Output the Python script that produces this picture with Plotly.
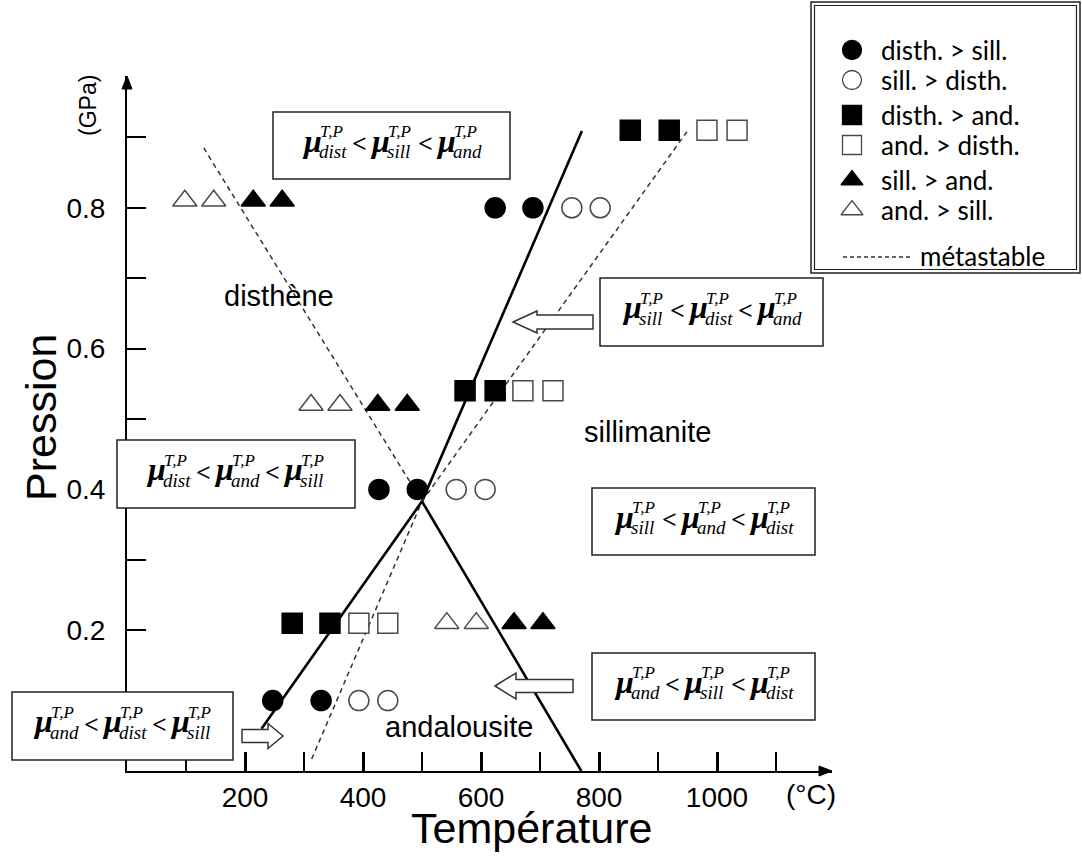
import plotly.graph_objects as go

W, H = 1082, 863

# ---------------- data (T in °C, P in GPa) ----------------
# experimental reversals
disth_sill_T = [247, 329, 427, 492, 624, 688]          # disth. > sill.
disth_sill_P = [0.10, 0.10, 0.40, 0.40, 0.80, 0.80]
sill_disth_T = [393, 442, 558, 607, 754, 802]          # sill. > disth.
sill_disth_P = [0.10, 0.10, 0.40, 0.40, 0.80, 0.80]
disth_and_T = [280, 344, 573, 624, 853, 919]           # disth. > and.
disth_and_P = [0.21, 0.21, 0.54, 0.54, 0.91, 0.91]
and_disth_T = [393, 442, 671, 722, 983, 1034]          # and. > disth.
and_disth_P = [0.21, 0.21, 0.54, 0.54, 0.91, 0.91]
sill_and_T = [214, 263, 425, 475, 656, 705]            # sill. > and.
sill_and_P = [0.81, 0.81, 0.52, 0.52, 0.21, 0.21]
and_sill_T = [98, 147, 312, 361, 542, 592]             # and. > sill.
and_sill_P = [0.81, 0.81, 0.52, 0.52, 0.21, 0.21]

# phase boundaries (stable, solid)
ky_and_T = [228, 500]
ky_and_P = [0.06, 0.383]
ky_sil_T = [500, 771]
ky_sil_P = [0.383, 0.909]
and_sil_T = [500, 770]
and_sil_P = [0.383, 0.0]
# metastable extensions (dashed)
meta_and_sil_T = [130, 500]
meta_and_sil_P = [0.885, 0.383]
meta_ky_sil_T = [313, 500]
meta_ky_sil_P = [0.017, 0.383]
meta_ky_and_T = [500, 949]
meta_ky_and_P = [0.383, 0.908]

x_tick_vals = [200, 400, 600, 800, 1000]
x_tick_text = ["200", "400", "600", "800", "1000"]
x_minor_vals = [0, 100, 300, 500, 700, 900, 1100]
y_tick_vals = [0.2, 0.4, 0.6, 0.8]
y_tick_text = ["0.2", "0.4", "0.6", "0.8"]
y_minor_vals = [0.1, 0.3, 0.5, 0.7, 0.9]

legend_labels = ["disth. > sill.", "sill. > disth.", "disth. > and.",
                 "and. > disth.", "sill. > and.", "and. > sill."]
region_labels = ["disthène", "sillimanite", "andalousite"]

# ---------------- layout geometry (pixels) ----------------
X0_PX, X1_PX = 127, 832        # T = 0 and arrow tip
Y0_PX, Y1_PX = 771, 76         # P = 0 and arrow tip
PX_PER_T = 0.59
PX_PER_P = 704.0
x_range = [0, (X1_PX - X0_PX) / PX_PER_T]
y_range = [0, (Y0_PX - Y1_PX) / PX_PER_P]

fig = go.Figure()

BLACK = "#000000"
OPEN_COL = "#4a4a4a"

# boundary lines
for T, P in [(ky_and_T, ky_and_P), (ky_sil_T, ky_sil_P), (and_sil_T, and_sil_P)]:
    fig.add_trace(go.Scatter(x=T, y=P, mode="lines",
                             line=dict(color=BLACK, width=2.6),
                             showlegend=False, hoverinfo="skip"))
for T, P in [(meta_and_sil_T, meta_and_sil_P), (meta_ky_sil_T, meta_ky_sil_P),
             (meta_ky_and_T, meta_ky_and_P)]:
    fig.add_trace(go.Scatter(x=T, y=P, mode="lines",
                             line=dict(color="#333333", width=1.5, dash="5px,4px"),
                             showlegend=False, hoverinfo="skip"))

# markers
series = [
    (disth_sill_T, disth_sill_P, "circle", BLACK, BLACK, 20),
    (sill_disth_T, sill_disth_P, "circle", "white", OPEN_COL, 20),
    (disth_and_T, disth_and_P, "square", BLACK, BLACK, 20),
    (and_disth_T, and_disth_P, "square", "white", OPEN_COL, 20),
    (sill_and_T, sill_and_P, "triangle-up", BLACK, BLACK, 21),
    (and_sill_T, and_sill_P, "triangle-up", "white", OPEN_COL, 21),
]
for (T, P, sym, fc, lc, sz), name in zip(series, legend_labels):
    fig.add_trace(go.Scatter(x=T, y=P, mode="markers", name=name,
                             marker=dict(symbol=sym, size=sz, color=fc,
                                         line=dict(color=lc, width=1.5)),
                             showlegend=False))

# legend keys (pixel overlay axes)
leg_rows = [50, 80, 115, 145, 180, 210]
for (T, P, sym, fc, lc, sz), yy in zip(series, leg_rows):
    fig.add_trace(go.Scatter(x=[852], y=[yy], mode="markers", xaxis="x2", yaxis="y2",
                             marker=dict(symbol=sym, size=19, color=fc,
                                         line=dict(color=lc, width=1.3)),
                             showlegend=False, hoverinfo="skip"))
fig.add_trace(go.Scatter(x=[843, 912], y=[257, 257], mode="lines", xaxis="x2", yaxis="y2",
                         line=dict(color="#333333", width=1.3, dash="4px,3px"),
                         showlegend=False, hoverinfo="skip"))

shapes = []
annotations = []

def A(x, y, text, size, family="Liberation Sans", xanchor="center", yanchor="middle",
      textangle=0, color=BLACK):
    annotations.append(dict(x=x, y=y, xref="x2", yref="y2", text=text, showarrow=False,
                            xanchor=xanchor, yanchor=yanchor, textangle=textangle,
                            font=dict(family=family, size=size, color=color)))

# legend boxes (double border) + text
shapes.append(dict(type="rect", xref="x2", yref="y2", x0=811, y0=2, x1=1080, y1=273,
                   line=dict(color="#222", width=1.5), fillcolor="white", layer="below"))
shapes.append(dict(type="rect", xref="x2", yref="y2", x0=814.5, y0=5.5, x1=1076.5, y1=269.5,
                   line=dict(color="#222", width=1.2), layer="below"))
for lab, yy in zip(legend_labels, leg_rows):
    A(879, yy, lab, 26, family="Lato", xanchor="left")
A(918, 256, "métastable", 26, family="Lato", xanchor="left")

# axis arrowheads
shapes.append(dict(type="path", xref="x2", yref="y2",
                   path=f"M {X1_PX-13},{Y0_PX-5} L {X1_PX},{Y0_PX} L {X1_PX-13},{Y0_PX+5} Z",
                   fillcolor=BLACK, line=dict(color=BLACK, width=1), layer="above"))
shapes.append(dict(type="path", xref="x2", yref="y2",
                   path=f"M {X0_PX-5},{Y1_PX+13} L {X0_PX},{Y1_PX} L {X0_PX+5},{Y1_PX+13} Z",
                   fillcolor=BLACK, line=dict(color=BLACK, width=1), layer="above"))

# chemical potential boxes
boxes = [
    ((273, 112, 510, 179), ("dist", "sill", "and")),
    ((600, 278, 823, 346), ("sill", "dist", "and")),
    ((117, 440, 355, 508), ("dist", "and", "sill")),
    ((592, 488, 815, 555), ("sill", "and", "dist")),
    ((592, 653, 815, 720), ("and", "sill", "dist")),
    ((12, 692, 233, 760), ("and", "dist", "sill")),
]
SUBW = {"dist": 27, "sill": 22, "and": 28}
SUPW = 25
MUW = 18
LTW = 15
GAP = 4
SERIF = "Liberation Serif"
for (x0, y0, x1, y1), terms in boxes:
    shapes.append(dict(type="rect", xref="x2", yref="y2", x0=x0, y0=y0, x1=x1, y1=y1,
                       line=dict(color="#222", width=1.5), fillcolor="white", layer="above"))
    widths = [MUW + max(SUBW[t], SUPW) for t in terms]
    total = sum(widths) + 2 * (GAP + LTW + GAP)
    cx = (x0 + x1) / 2
    cy = (y0 + y1) / 2
    x = cx - total / 2
    for i, t in enumerate(terms):
        A(x - 2, cy - 5, "<b><i>μ</i></b>", 32, family=SERIF, xanchor="left")
        A(x + MUW - 3, cy + 6, f"<i>{t}</i>", 19, family=SERIF, xanchor="left")
        A(x + MUW - 2, cy - 14, "<i>T,P</i>", 17, family=SERIF, xanchor="left")
        x += widths[i]
        if i < 2:
            A(x + GAP - 1, cy - 2, "<b>&lt;</b>", 26, family=SERIF, xanchor="left")
            x += GAP + LTW + GAP

# block arrows
def block_arrow(tip_x, tip_y, head_x, head_h, shaft_h, end_x):
    p = (f"M {tip_x},{tip_y} L {head_x},{tip_y-head_h} L {head_x},{tip_y-shaft_h} "
         f"L {end_x},{tip_y-shaft_h} L {end_x},{tip_y+shaft_h} L {head_x},{tip_y+shaft_h} "
         f"L {head_x},{tip_y+head_h} Z")
    shapes.append(dict(type="path", xref="x2", yref="y2", path=p, fillcolor="white",
                       line=dict(color="#333", width=1.5), layer="above"))

block_arrow(513, 322, 537, 11, 7, 593)
block_arrow(495, 686, 516, 13, 6.5, 573)
block_arrow(283, 736, 268, 12.5, 6.5, 242)

# region labels
A(279, 296, region_labels[0], 29)
A(647, 432, region_labels[1], 29)
A(459, 727, region_labels[2], 29)

# axis titles / units
A(531, 828, "Température", 43)
A(41, 418, "Pression", 43, textangle=-90)
A(88, 106, "(GPa)", 23, textangle=-90)
A(811, 794, "(°C)", 28)

fig.update_layout(
    width=W, height=H,
    margin=dict(l=0, r=0, t=0, b=0),
    paper_bgcolor="white", plot_bgcolor="rgba(0,0,0,0)",
    showlegend=False,
    shapes=shapes, annotations=annotations,
    xaxis=dict(domain=[X0_PX / W, X1_PX / W], range=x_range, anchor="y",
               showline=True, linecolor=BLACK, linewidth=2,
               ticks="inside", ticklen=19, tickwidth=2.5, tickcolor=BLACK,
               tickvals=x_tick_vals, ticktext=x_tick_text,
               tickfont=dict(family="Liberation Sans", size=28, color=BLACK),
               ticklabelstandoff=0,
               minor=dict(tickvals=x_minor_vals, ticks="inside", ticklen=19,
                          tickwidth=1.5, tickcolor=BLACK, showgrid=False),
               showgrid=False, zeroline=False, fixedrange=True),
    yaxis=dict(domain=[(H - Y0_PX) / H, (H - Y1_PX) / H], range=y_range, anchor="x",
               showline=True, linecolor=BLACK, linewidth=2,
               ticks="inside", ticklen=19, tickwidth=1.5, tickcolor=BLACK,
               tickvals=y_tick_vals, ticktext=y_tick_text,
               tickfont=dict(family="Liberation Sans", size=28, color=BLACK),
               ticklabelstandoff=14,
               minor=dict(tickvals=y_minor_vals, ticks="inside", ticklen=19,
                          tickwidth=1.5, tickcolor=BLACK, showgrid=False),
               showgrid=False, zeroline=False, fixedrange=True),
    xaxis2=dict(domain=[0, 1], range=[0, W], anchor="y2", visible=False, fixedrange=True),
    yaxis2=dict(domain=[0, 1], range=[H, 0], anchor="x2", visible=False, fixedrange=True),
)

fig.write_html("out.html", config={"displayModeBar": False},
               post_script="document.body.style.margin='0';document.body.style.overflow='hidden';")
